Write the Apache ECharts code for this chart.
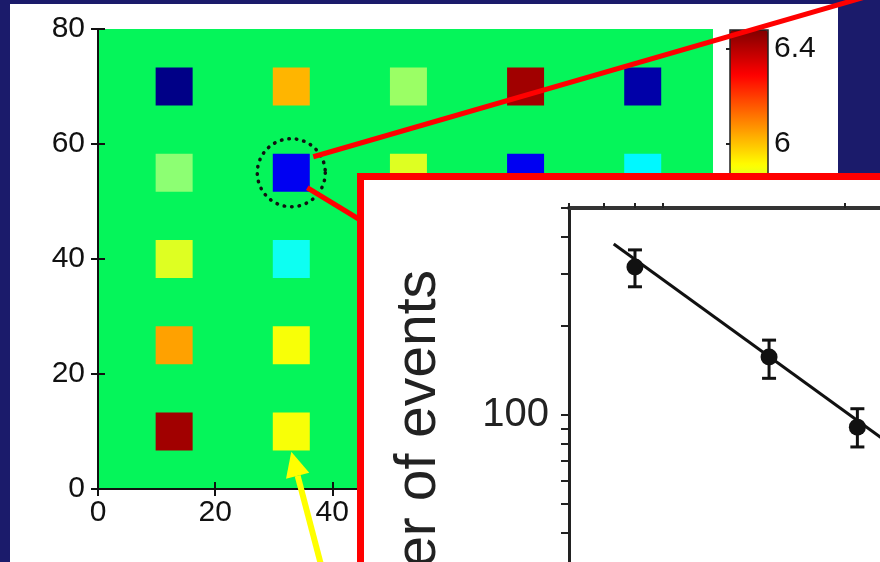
<!DOCTYPE html>
<html><head><meta charset="utf-8">
<script src="https://cdn.jsdelivr.net/npm/echarts@6/dist/echarts.min.js"></script>
<style>html,body{margin:0;padding:0;background:#1b1b6b}#c{width:880px;height:562px}</style>
</head><body><div id="c"></div>
<script>
// ---- Map of squares (x, y in map units; value on colour scale) ----
const squareX     = [13, 33, 53, 73, 93, 13, 33, 53, 73, 93, 13, 33, 13, 33, 13, 33];
const squareY     = [70, 70, 70, 70, 70, 55, 55, 55, 55, 55, 40, 40, 25, 25, 10, 10];
const squareValue = [4.97, 6.02, 5.76, 6.43, 5.02, 5.74, 5.13, 5.86, 5.13, 5.52, 5.86, 5.55, 6.05, 5.90, 6.43, 5.90];
const mapXTicks = [0, 20, 40, 60, 80, 100];
const mapYTicks = [0, 20, 40, 60, 80];
const colorbarMin = 4.96, colorbarMax = 6.48;
const colorbarTicks = [5.2, 5.6, 6, 6.4];
const jetColors = ['#000080', '#0000ff', '#0080ff', '#00ffff', '#80ff80', '#ffff00', '#ff8000', '#ff0000', '#800000'];
const circledSquare = [33, 55];
const arrowSquare = [33, 6.5];

// ---- Inset: number of events (log-log) ----
const insetX      = [0.9, 1.5, 2.1];
const insetY      = [316, 157, 91];
const insetYLow   = [271, 133, 78];
const insetYHigh  = [361, 179, 105];
const fitLine     = [[0.83, 378], [2.5, 74]];
const insetXTicks = [0.7, 0.8, 0.9, 1, 2, 3];
const insetYTicks = [30, 40, 50, 60, 70, 80, 90, 100, 200, 300, 400, 500];
const insetYLabels = [100];

const FONT = '"Liberation Sans", Arial, sans-serif';
const ink = '#111';

const chart = echarts.init(document.getElementById('c'), null, {renderer: 'canvas'});

const mapAxisCommon = {
  type: 'value',
  axisLine: {show: true, lineStyle: {color: ink, width: 2}},
  axisTick: {show: true, inside: true, length: 7, lineStyle: {color: ink, width: 2}},
  splitLine: {show: false}
};

const option = {
  backgroundColor: '#1b1b6b',
  animation: false,
  grid: [
    {left: 98, top: 29, width: 615, height: 460, show: true, backgroundColor: '#05f55a', borderWidth: 0, outerBoundsMode: 'none', containLabel: false},
    {left: 730, top: 30, width: 38, height: 361, show: true, backgroundColor: 'transparent', borderColor: '#222', borderWidth: 1.5, z: 5, outerBoundsMode: 'none', containLabel: false},
    {left: 569, top: 208, width: 382, height: 414, z: 60, outerBoundsMode: 'none', containLabel: false}
  ],
  xAxis: [
    Object.assign({}, mapAxisCommon, {gridIndex: 0, min: 0, max: 105, interval: 20, position: 'bottom',
      axisLabel: {fontSize: 30, color: ink, fontFamily: FONT, margin: 9, customValues: mapXTicks}}),
    Object.assign({}, mapAxisCommon, {gridIndex: 0, min: 0, max: 105, interval: 20, position: 'top',
      axisLabel: {show: false}}),
    {gridIndex: 1, type: 'value', min: 0, max: 1, show: false},
    {gridIndex: 2, type: 'log', min: 0.7, max: 3, position: 'bottom', z: 60,
      axisLine: {lineStyle: {color: '#222', width: 3}},
      axisTick: {customValues: insetXTicks, length: 5, lineStyle: {color: '#222', width: 2}},
      axisLabel: {customValues: [1, 2], fontSize: 40, color: '#222', fontFamily: FONT},
      splitLine: {show: false}},
    {gridIndex: 2, type: 'log', min: 0.7, max: 3, position: 'top', z: 60,
      axisLine: {lineStyle: {color: '#333', width: 4}},
      axisTick: {customValues: insetXTicks, length: 5, lineStyle: {color: '#222', width: 2}},
      axisLabel: {show: false},
      splitLine: {show: false}}
  ],
  yAxis: [
    Object.assign({}, mapAxisCommon, {gridIndex: 0, min: 0, max: 80, interval: 20, position: 'left',
      axisLabel: {fontSize: 30, color: ink, fontFamily: FONT, margin: 13, customValues: mapYTicks}}),
    Object.assign({}, mapAxisCommon, {gridIndex: 0, min: 0, max: 80, interval: 20, position: 'right',
      axisLabel: {show: false}}),
    {gridIndex: 1, type: 'value', min: colorbarMin, max: colorbarMax, position: 'right',
      axisLine: {show: false},
      axisTick: {show: true, inside: true, length: 4, customValues: colorbarTicks, lineStyle: {color: '#222', width: 2}},
      axisLabel: {customValues: colorbarTicks, fontSize: 30, color: ink, fontFamily: FONT, margin: 6},
      splitLine: {show: false}},
    {gridIndex: 1, type: 'value', min: colorbarMin, max: colorbarMax, position: 'left',
      axisLine: {show: false},
      axisTick: {show: true, inside: true, length: 4, customValues: colorbarTicks, lineStyle: {color: '#222', width: 2}},
      axisLabel: {show: false},
      splitLine: {show: false}},
    {gridIndex: 2, type: 'log', min: 20, max: 500, position: 'left', z: 60,
      axisLine: {lineStyle: {color: '#222', width: 3}},
      axisTick: {customValues: insetYTicks, length: 8, lineStyle: {color: '#222', width: 2}},
      axisLabel: {customValues: insetYLabels, fontSize: 40, color: '#222', fontFamily: FONT, margin: 20},
      splitLine: {show: false}}
  ],
  visualMap: [{
    type: 'continuous', seriesIndex: 0, dimension: 2,
    min: colorbarMin, max: colorbarMax,
    inRange: {color: jetColors},
    left: 725, top: 25, padding: 5,
    itemWidth: 38, itemHeight: 361,
    calculable: false, text: null, z: 4
  }],
  series: [
    {
      type: 'scatter', xAxisIndex: 0, yAxisIndex: 0, z: 2,
      symbol: 'rect', symbolSize: [37, 38],
      data: squareX.map((x, i) => [x, squareY[i], squareValue[i]]),
      itemStyle: {opacity: 1}
    },
    {
      type: 'line', xAxisIndex: 3, yAxisIndex: 4, z: 61,
      data: fitLine, symbol: 'none',
      lineStyle: {color: '#111', width: 3}
    },
    {
      type: 'custom', xAxisIndex: 3, yAxisIndex: 4, z: 62,
      data: insetX.map((x, i) => [x, insetYLow[i], insetYHigh[i]]),
      renderItem: function (params, api) {
        const lo = api.coord([api.value(0), api.value(1)]);
        const hi = api.coord([api.value(0), api.value(2)]);
        const cap = 7;
        const st = {stroke: '#111', lineWidth: 3};
        return {type: 'group', children: [
          {type: 'line', shape: {x1: lo[0], y1: lo[1], x2: hi[0], y2: hi[1]}, style: st},
          {type: 'line', shape: {x1: lo[0] - cap, y1: lo[1], x2: lo[0] + cap, y2: lo[1]}, style: st},
          {type: 'line', shape: {x1: hi[0] - cap, y1: hi[1], x2: hi[0] + cap, y2: hi[1]}, style: st}
        ]};
      }
    },
    {
      type: 'scatter', xAxisIndex: 3, yAxisIndex: 4, z: 63,
      data: insetX.map((x, i) => [x, insetY[i]]),
      symbol: 'circle', symbolSize: 17,
      itemStyle: {color: '#111', opacity: 1}
    }
  ]
};

chart.setOption(option);

// ---- Annotations anchored to the data ----
const cc = chart.convertToPixel({seriesIndex: 0}, circledSquare);
const tip = chart.convertToPixel({seriesIndex: 0}, arrowSquare);
const tail = [325, 580];
const dx = tip[0] - tail[0], dy = tip[1] - tail[1];
const len = Math.sqrt(dx * dx + dy * dy);
const ux = dx / len, uy = dy / len;
const headLen = 25, headHalf = 12;
const bx = tip[0] - ux * headLen, by = tip[1] - uy * headLen;
const px = -uy, py = ux;

chart.setOption({
  graphic: [
    {type: 'rect', z: -10, shape: {x: 10, y: 4, width: 828, height: 600}, style: {fill: '#ffffff'}},
    {type: 'circle', z: 20, shape: {cx: cc[0], cy: cc[1], r: 34},
      style: {fill: 'none', stroke: '#111', lineWidth: 3.5, lineDash: [0.5, 7], lineCap: 'round'}},
    {type: 'line', z: 30, shape: {x1: cc[0] + 22, y1: cc[1] - 16, x2: 872, y2: -5},
      style: {stroke: '#ff0000', lineWidth: 5}},
    {type: 'line', z: 30, shape: {x1: cc[0] + 16, y1: cc[1] + 15, x2: 362, y2: 221},
      style: {stroke: '#ff0000', lineWidth: 5}},
    {type: 'rect', z: 50, shape: {x: 360.5, y: 176.5, width: 600, height: 500},
      style: {fill: '#ffffff', stroke: '#ff0000', lineWidth: 7}},
    {type: 'text', z: 61, x: 448, y: 270, rotation: Math.PI / 2,
      style: {text: 'Number of events', fontSize: 57, fontFamily: FONT, fill: '#222', align: 'right', verticalAlign: 'bottom'}},
    {type: 'line', z: 40, shape: {x1: tail[0], y1: tail[1], x2: bx, y2: by},
      style: {stroke: '#ffff00', lineWidth: 6}},
    {type: 'polygon', z: 40, shape: {points: [[tip[0], tip[1]], [bx + px * headHalf, by + py * headHalf], [bx - px * headHalf, by - py * headHalf]]},
      style: {fill: '#ffff00'}}
  ]
});
</script>
</body></html>
